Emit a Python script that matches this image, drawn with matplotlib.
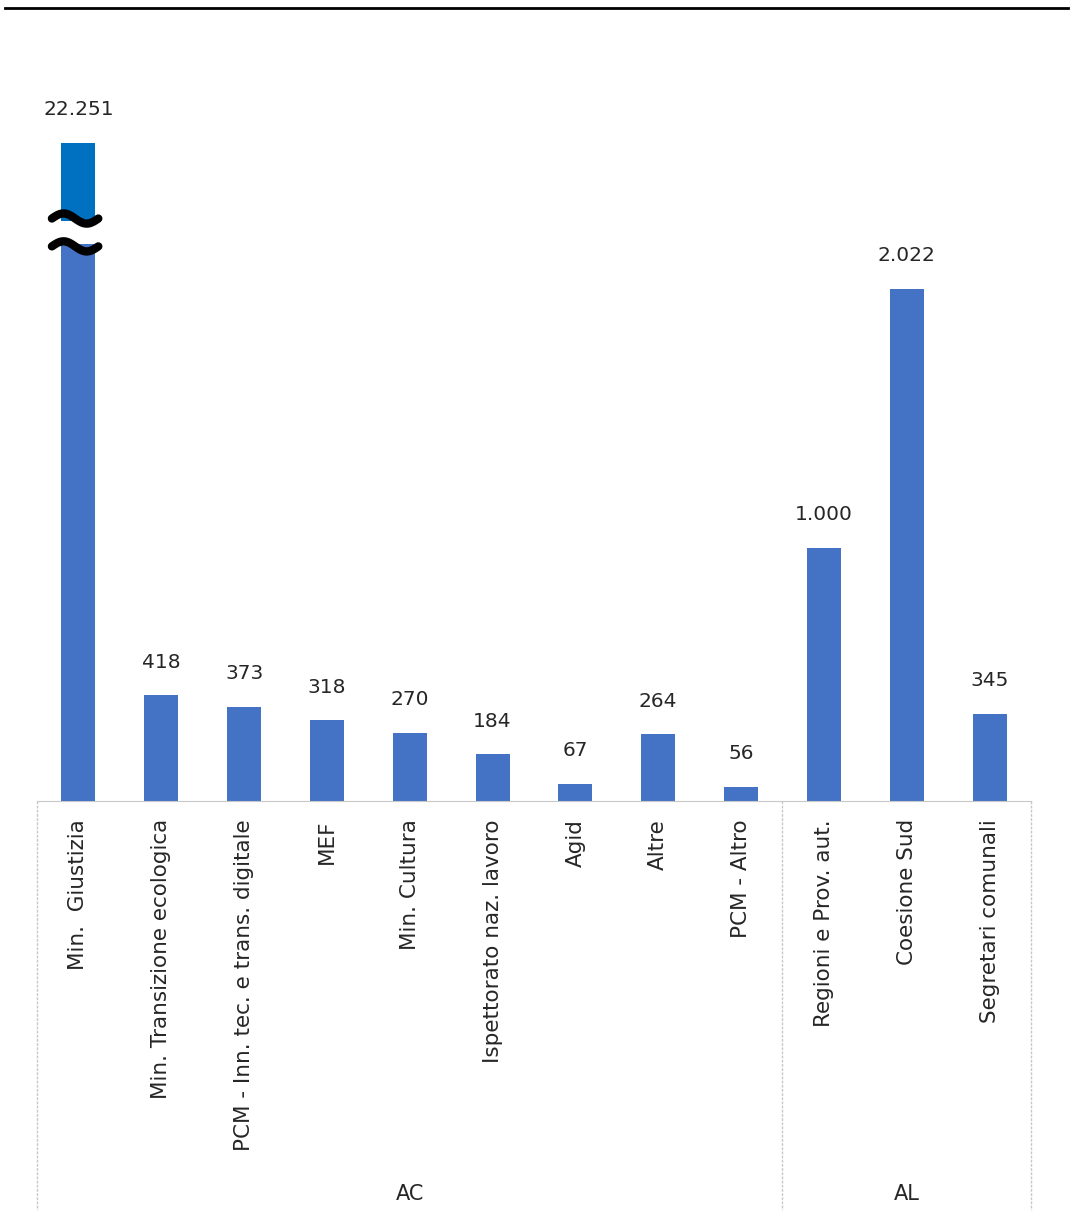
import matplotlib.pyplot as plt
import numpy as np
from matplotlib.transforms import blended_transform_factory
from matplotlib.lines import Line2D

categories = ["Min.  Giustizia", "Min. Transizione ecologica",
              "PCM - Inn. tec. e trans. digitale", "MEF", "Min. Cultura",
              "Ispettorato naz. lavoro", "Agid", "Altre", "PCM - Altro",
              "Regioni e Prov. aut.", "Coesione Sud", "Segretari comunali"]
values = [22251, 418, 373, 318, 270, 184, 67, 264, 56, 1000, 2022, 345]
value_labels = ["22.251", "418", "373", "318", "270", "184", "67", "264",
                "56", "1.000", "2.022", "345"]
groups = ["AC", "AL"]
group_sizes = [9, 3]

# broken-axis settings for the outlier bar
cap = 2600
break_lo, break_hi = 2200, 2290

blue = "#4472C4"
dark_blue = "#0070C0"
grid_grey = "#C8C8C8"

fig = plt.figure(figsize=(10.72, 12.25), dpi=100)
ax = fig.add_axes((37 / 1072, 1 - 801 / 1225, 994 / 1072, 701 / 1225))

x = np.arange(len(values))
heights = [min(v, cap) for v in values]
ax.bar(x, heights, width=0.41, color=blue, zorder=2)

# outlier bar: darker top piece, white gap, wavy break marks
big = int(np.argmax(values))
ax.bar(x[big], break_lo, width=0.41, color=blue, zorder=3)
ax.bar(x[big], cap - break_hi, bottom=break_hi, width=0.41, color=dark_blue, zorder=3)
ax.bar(x[big], break_hi - break_lo, bottom=break_lo, width=0.43, color="white", zorder=3)
t = np.linspace(0, 1, 60)
for yc in (2300, 2190):
    ax.plot(x[big] - 0.32 + 0.56 * t, yc + 20 * np.sin(2 * np.pi * t),
            color="black", lw=6, solid_capstyle="round", zorder=4)

for xi, h, lab in zip(x, heights, value_labels):
    ax.annotate(lab, (xi, h), xytext=(0, 17), textcoords="offset points",
                ha="center", va="bottom", fontsize=14.5, color="#262626")

ax.set_xlim(-0.5, len(values) - 0.5)
ax.set_ylim(0, 2768)
for s in ["top", "right", "left"]:
    ax.spines[s].set_visible(False)
ax.spines["bottom"].set_color(grid_grey)
ax.spines["bottom"].set_linestyle((0, (2, 1)))
ax.set_yticks([])
ax.set_xticks(x)
ax.set_xticklabels(categories, rotation=90, va="top", ha="center",
                   fontsize=15.5, color="#262626")
ax.tick_params(axis="x", length=0, pad=13)

# category group boxes under the axis
trans = blended_transform_factory(ax.transData, ax.transAxes)
bottom = -409 / 701
edges = np.concatenate([[0], np.cumsum(group_sizes)]) - 0.5
for e in edges:
    ax.add_line(Line2D([e, e], [0, bottom], transform=trans, color=grid_grey,
                       lw=1, ls=(0, (2, 1)), clip_on=False))
for g, lo, hi in zip(groups, edges[:-1], edges[1:]):
    ax.text((lo + hi) / 2, bottom + 16 / 701, g, transform=trans, ha="center",
            va="center", fontsize=15, color="#262626")

fig.add_artist(Line2D([5 / 1072, 1068 / 1072], [1 - 8 / 1225, 1 - 8 / 1225],
                      transform=fig.transFigure, color="black", lw=2))

fig.savefig("out.png", dpi=100)
